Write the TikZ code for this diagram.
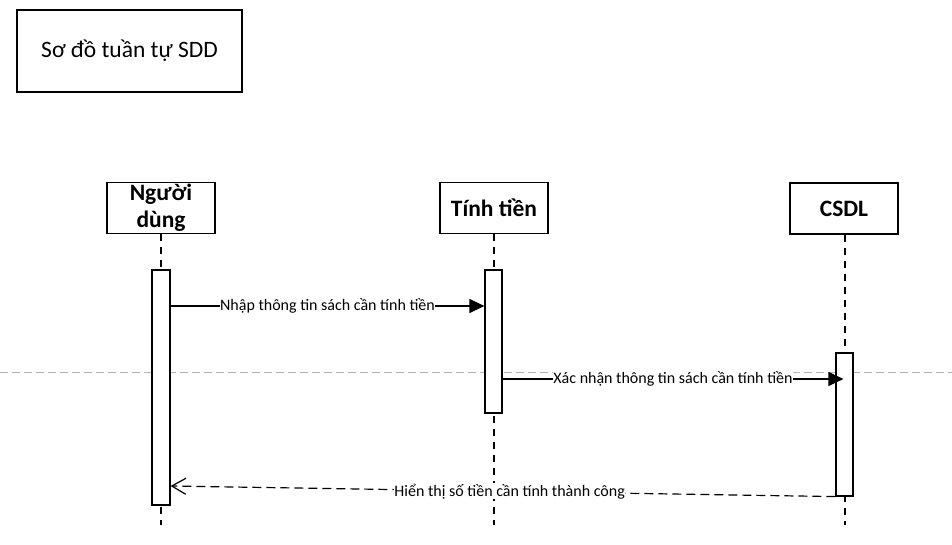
\documentclass[tikz,border=0pt]{standalone}
\usepackage{fontspec}
\setmainfont{Carlito}
\usetikzlibrary{arrows.meta}
\begin{document}
\begin{tikzpicture}[x=1pt,y=-1pt,line width=1.2pt,
  actor/.style={draw,fill=white,minimum width=108pt,minimum height=51pt,
    font=\fontsize{23.5}{26}\selectfont\bfseries,align=center,inner sep=0pt},
  bar/.style={draw,fill=white,inner sep=0pt},
  life/.style={draw,dash pattern=on 7pt off 6pt},
  msg/.style={draw,-{Triangle[length=15pt,width=14pt]}},
  reply/.style={draw,dash pattern=on 9pt off 5pt,-{Straight Barb[length=14pt,width=16pt]}},
  lbl/.style={fill=white,inner sep=0.5pt,font=\fontsize{16}{17}\selectfont}]
\useasboundingbox (0,0) rectangle (952,545);
% separator line
\draw[gray!60,line width=0.8pt,dash pattern=on 8pt off 4pt] (0,372) -- (952,372);
% title
\node[draw,minimum width=225pt,minimum height=82pt,font=\fontsize{23.5}{25}\selectfont] (title) at (129.5,51) {Sơ đồ tuần tự SDD};
% participants
\node[actor] (user) at (161,208) {Người\\[1pt]dùng};
\node[actor] (calc) at (494,208) {Tính tiền};
\node[actor] (db) at (844,208.5) {CSDL};
% lifeline ends
\coordinate (userEnd) at (161,525);
\coordinate (calcEnd) at (494,525);
\coordinate (dbEnd) at (845,525);
\draw[life] (user.south) -- (userEnd);
\draw[life] (calc.south) -- (calcEnd);
\draw[life] (db.south -| dbEnd) -- (dbEnd);
% activation bars
\node[bar,minimum width=18pt,minimum height=235pt] (userAct) at (161,387.5) {};
\node[bar,minimum width=17pt,minimum height=143pt] (calcAct) at (493.5,341.5) {};
\node[bar,minimum width=17pt,minimum height=143pt] (dbAct) at (844.5,424.5) {};
% messages
\draw[msg] (userAct.east |- 0,306) -- node[lbl]{Nhập thông tin sách cần tính tiền} (calcAct.west |- 0,306);
\draw[msg] (calcAct.east |- 0,379) -- node[lbl]{Xác nhận thông tin sách cần tính tiền} ([xshift=8pt]dbAct.west |- 0,379);
\draw[reply] (dbAct.south west) -- node[lbl,pos=0.49]{Hiển thị số tiền cần tính thành công} (userAct.east |- 0,486);
\end{tikzpicture}
\end{document}
